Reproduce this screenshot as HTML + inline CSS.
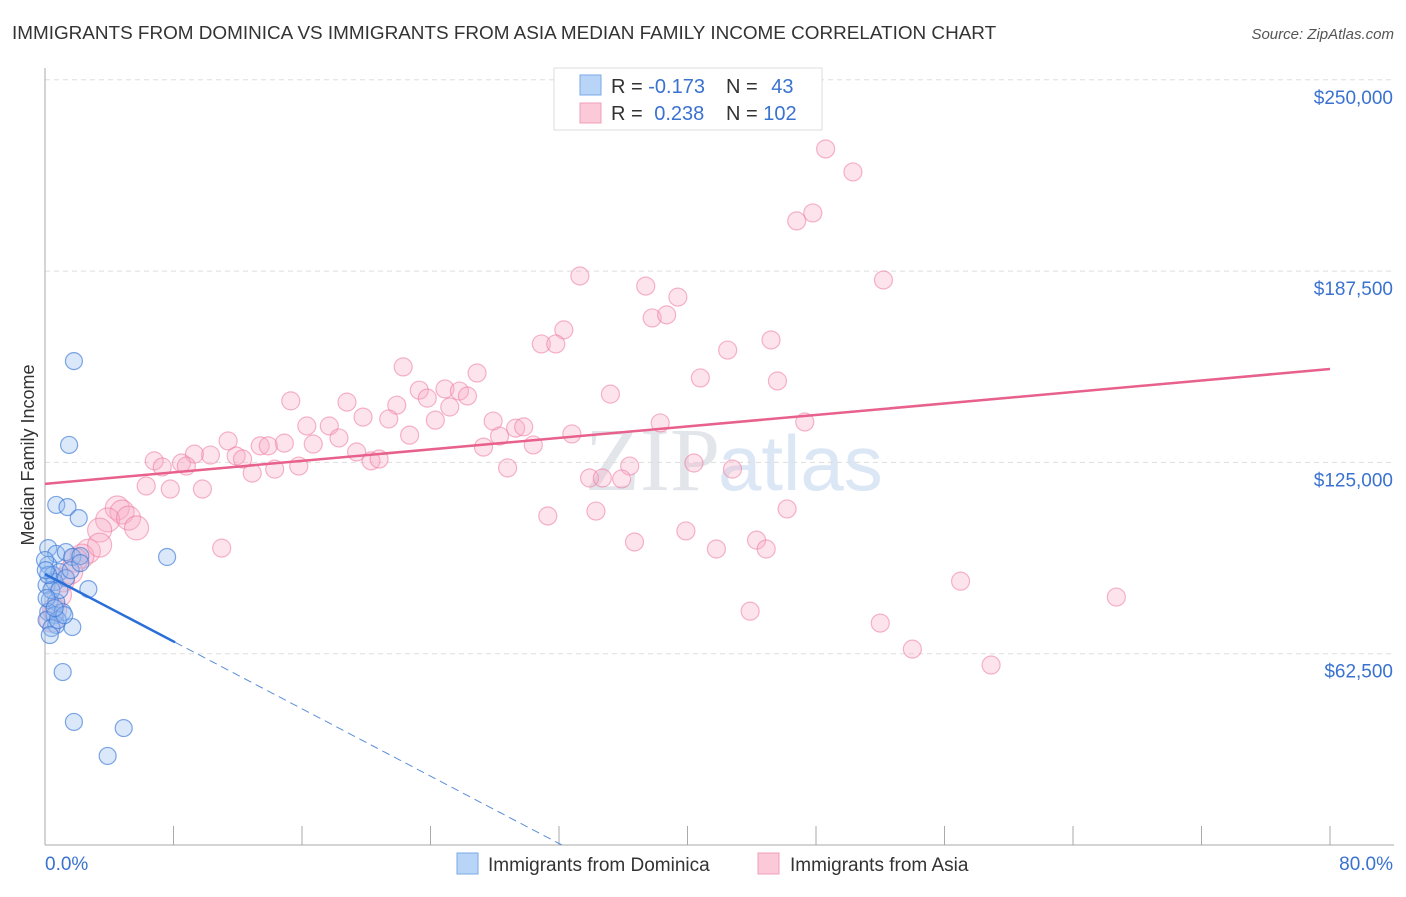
<!DOCTYPE html>
<html><head><meta charset="utf-8"><style>
body{margin:0;background:#fff;font-family:"Liberation Sans",sans-serif}
</style></head><body>
<svg width="1406" height="892" viewBox="0 0 1406 892" id="chart" style="font-family:'Liberation Sans',sans-serif">
<text x="12" y="39" font-size="18.9" fill="#333">IMMIGRANTS FROM DOMINICA VS IMMIGRANTS FROM ASIA MEDIAN FAMILY INCOME CORRELATION CHART</text>
<text x="1394" y="39" font-size="15" fill="#555" font-style="italic" text-anchor="end">Source: ZipAtlas.com</text>
<text x="720" y="490" font-size="90" fill="#e2e6ea" text-anchor="end" font-family="Liberation Serif">ZIP</text>
<text x="718" y="490" font-size="78" fill="#dbe7f5">atlas</text>
<g id="grid"></g><g id="axes"></g><g id="pink"></g><g id="blue"></g><g id="trend"></g>
<text transform="translate(34,455) rotate(-90)" font-size="18" fill="#333" text-anchor="middle">Median Family Income</text>
<g>
<rect x="554" y="68" width="268" height="62" fill="#fff" stroke="#ddd"/>
<rect x="580" y="75" width="21" height="20" fill="#b8d4f6" stroke="#7aaae8"/>
<rect x="580" y="103" width="21" height="20" fill="#fcc9d8" stroke="#f0a0b8"/>
<text x="611" y="93" font-size="20" fill="#333">R = <tspan fill="#3a72d0">-0.173</tspan></text>
<text x="726" y="93" font-size="20" fill="#333">N = <tspan fill="#3a72d0" dx="8">43</tspan></text>
<text x="611" y="120" font-size="20" fill="#333">R = <tspan fill="#3a72d0" dx="6">0.238</tspan></text>
<text x="726" y="120" font-size="20" fill="#333">N = <tspan fill="#3a72d0">102</tspan></text>
</g>
<g>
<rect x="457" y="853" width="21" height="21" fill="#b8d4f6" stroke="#7aaae8"/>
<text x="488" y="871" font-size="19" fill="#333">Immigrants from Dominica</text>
<rect x="758" y="853" width="21" height="21" fill="#fcc9d8" stroke="#f0a0b8"/>
<text x="790" y="871" font-size="19" fill="#333">Immigrants from Asia</text>
</g>
</svg>
<script>
const yTicks=[62500,125000,187500,250000];
const yTickLabels=["$62,500","$125,000","$187,500","$250,000"];
const xTicks=[0,8,16,24,32,40,48,56,64,72,80];
const pinkX=[48.6,50.3,47.8,46.8,33.3,52.2,37.4,39.4,37.8,38.7,32.3,30.9,31.8,42.5,45.2,22.3,26.9,40.8,45.6,35.2,23.3,24.9,25.8,26.3,23.8,15.3,18.8,21.9,25.2,19.8,21.4,16.3,17.7,24.3,27.9,29.3,29.8,22.7,28.3,11.4,14.9,16.7,18.3,13.4,13.9,19.4,27.3,30.4,32.8,38.3,47.3,6.8,10.3,9.3,8.5,7.3,8.8,11.9,12.3,15.8,20.3,20.8,28.8,40.4,42.8,36.4,6.3,7.8,9.8,12.9,14.3,33.9,34.7,35.9,31.3,34.3,46.2,4.5,4.8,3.9,5.2,5.7,3.4,36.7,39.9,41.8,44.3,44.9,11.0,2.7,2.3,1.9,1.6,1.1,0.9,0.4,0.6,57.0,66.7,43.9,52.0,54.0,58.9,3.4];
const pinkY=[227.4,219.9,206.5,203.9,185.9,184.6,182.6,179.0,172.2,173.2,168.3,163.7,163.7,161.7,165.0,156.2,154.2,152.6,151.6,147.3,148.6,149.0,148.3,146.7,146.0,145.1,144.7,143.7,143.1,139.8,139.2,136.9,136.9,138.8,138.5,136.2,136.6,133.9,133.6,132.0,131.3,131.0,133.0,130.4,130.4,128.4,130.0,130.7,134.3,137.9,138.2,125.5,127.4,127.7,124.8,123.5,123.8,127.1,126.1,123.8,125.5,126.1,123.2,124.8,122.8,123.8,117.3,116.3,116.3,121.5,122.8,119.9,119.9,119.6,107.5,109.1,109.8,110.1,108.8,106.2,106.8,103.6,102.9,99.0,102.6,96.7,99.6,96.7,97.0,96.0,94.4,93.1,89.2,86.6,81.7,73.5,76.8,86.2,81.0,76.4,72.5,64.0,58.8,98.0];
const blueX=[1.8,1.5,0.7,1.4,2.1,7.6,0.2,0.7,1.3,1.7,2.2,0.2,0.5,0.9,0.1,0.6,1.3,2.7,0.3,0.7,0.2,0.6,1.1,0.1,0.7,1.7,0.4,1.1,1.8,4.9,3.9,0.4,0.9,0.0,0.2,1.6,0.8,1.2,0.3,0.1,0.6,0.05,2.2];
const blueY=[158.1,130.7,111.1,110.4,106.8,94.1,97.0,95.1,95.7,94.1,94.4,91.5,88.2,89.2,84.9,85.9,87.2,83.6,80.0,79.4,76.1,75.1,76.1,73.5,71.9,71.2,70.9,56.5,40.2,38.2,29.1,83.3,83.3,93.1,88.2,89.8,73.5,75.1,68.6,80.7,77.4,89.8,92.1];
const pinkTrend=[118.0,155.5];
const blueTrend=[88.5,-2.75];
const NS="http://www.w3.org/2000/svg";
const X=p=>45+p/80*1285, Y=k=>845-k*1000/62500*191.3;
function mk(t,a,parent){const e=document.createElementNS(NS,t);for(const k in a)e.setAttribute(k,a[k]);document.getElementById(parent).appendChild(e);return e;}
yTicks.forEach((v,i)=>{
 const l=mk('line',{x1:45,x2:1394,y1:Y(v/1000),y2:Y(v/1000),stroke:'#ddd','stroke-dasharray':'5,4'},'grid');
 
 
 const t=mk('text',{x:1393,y:Y(v/1000)+24,'font-size':19,fill:'#3a72d0','text-anchor':'end'},'grid');
 t.textContent=yTickLabels[i];
 
 
});
let ax=mk('line',{x1:45,x2:45,y1:68,y2:845,stroke:'#aaa'},'axes');


ax=mk('line',{x1:45,x2:1394,y1:845,y2:845,stroke:'#aaa'},'axes');


xTicks.forEach(p=>{const t=mk('line',{x1:X(p),x2:X(p),y1:826,y2:845,stroke:'#aaa'},'axes');
 
 });
let lt=mk('text',{x:45,y:870,'font-size':19,fill:'#3a72d0'},'axes');lt.textContent=xTicks[0].toFixed(1)+'%';


lt=mk('text',{x:1393,y:870,'font-size':19,fill:'#3a72d0','text-anchor':'end'},'axes');lt.textContent=xTicks[xTicks.length-1].toFixed(1)+'%';


pinkX.forEach((x,i)=>{const c=mk('circle',{cx:X(x),cy:Y(pinkY[i]),r:x<6?12:9,fill:'rgba(248,170,196,0.32)',stroke:'rgba(236,120,160,0.55)','stroke-width':1.2},'pink');
 
 });
blueX.forEach((x,i)=>{const c=mk('circle',{cx:X(x),cy:Y(blueY[i]),r:8.5,fill:'rgba(150,190,240,0.35)',stroke:'rgba(60,120,215,0.65)','stroke-width':1.2},'blue');
 
 });
let tl=mk('line',{x1:X(0),y1:Y(pinkTrend[0]),x2:X(80),y2:Y(pinkTrend[1]),stroke:'#e8608c','stroke-width':2.5},'trend');


const bz=-blueTrend[0]/blueTrend[1];
tl=mk('line',{x1:X(0),y1:Y(blueTrend[0]),x2:X(8.1),y2:Y(blueTrend[0]+blueTrend[1]*8.1),stroke:'#2a6ed8','stroke-width':2.5},'trend');


tl=mk('line',{x1:X(8.1),y1:Y(blueTrend[0]+blueTrend[1]*8.1),x2:X(bz),y2:Y(0),stroke:'#5a8ed8','stroke-width':1,'stroke-dasharray':'8,5'},'trend');


</script>
</body></html>
